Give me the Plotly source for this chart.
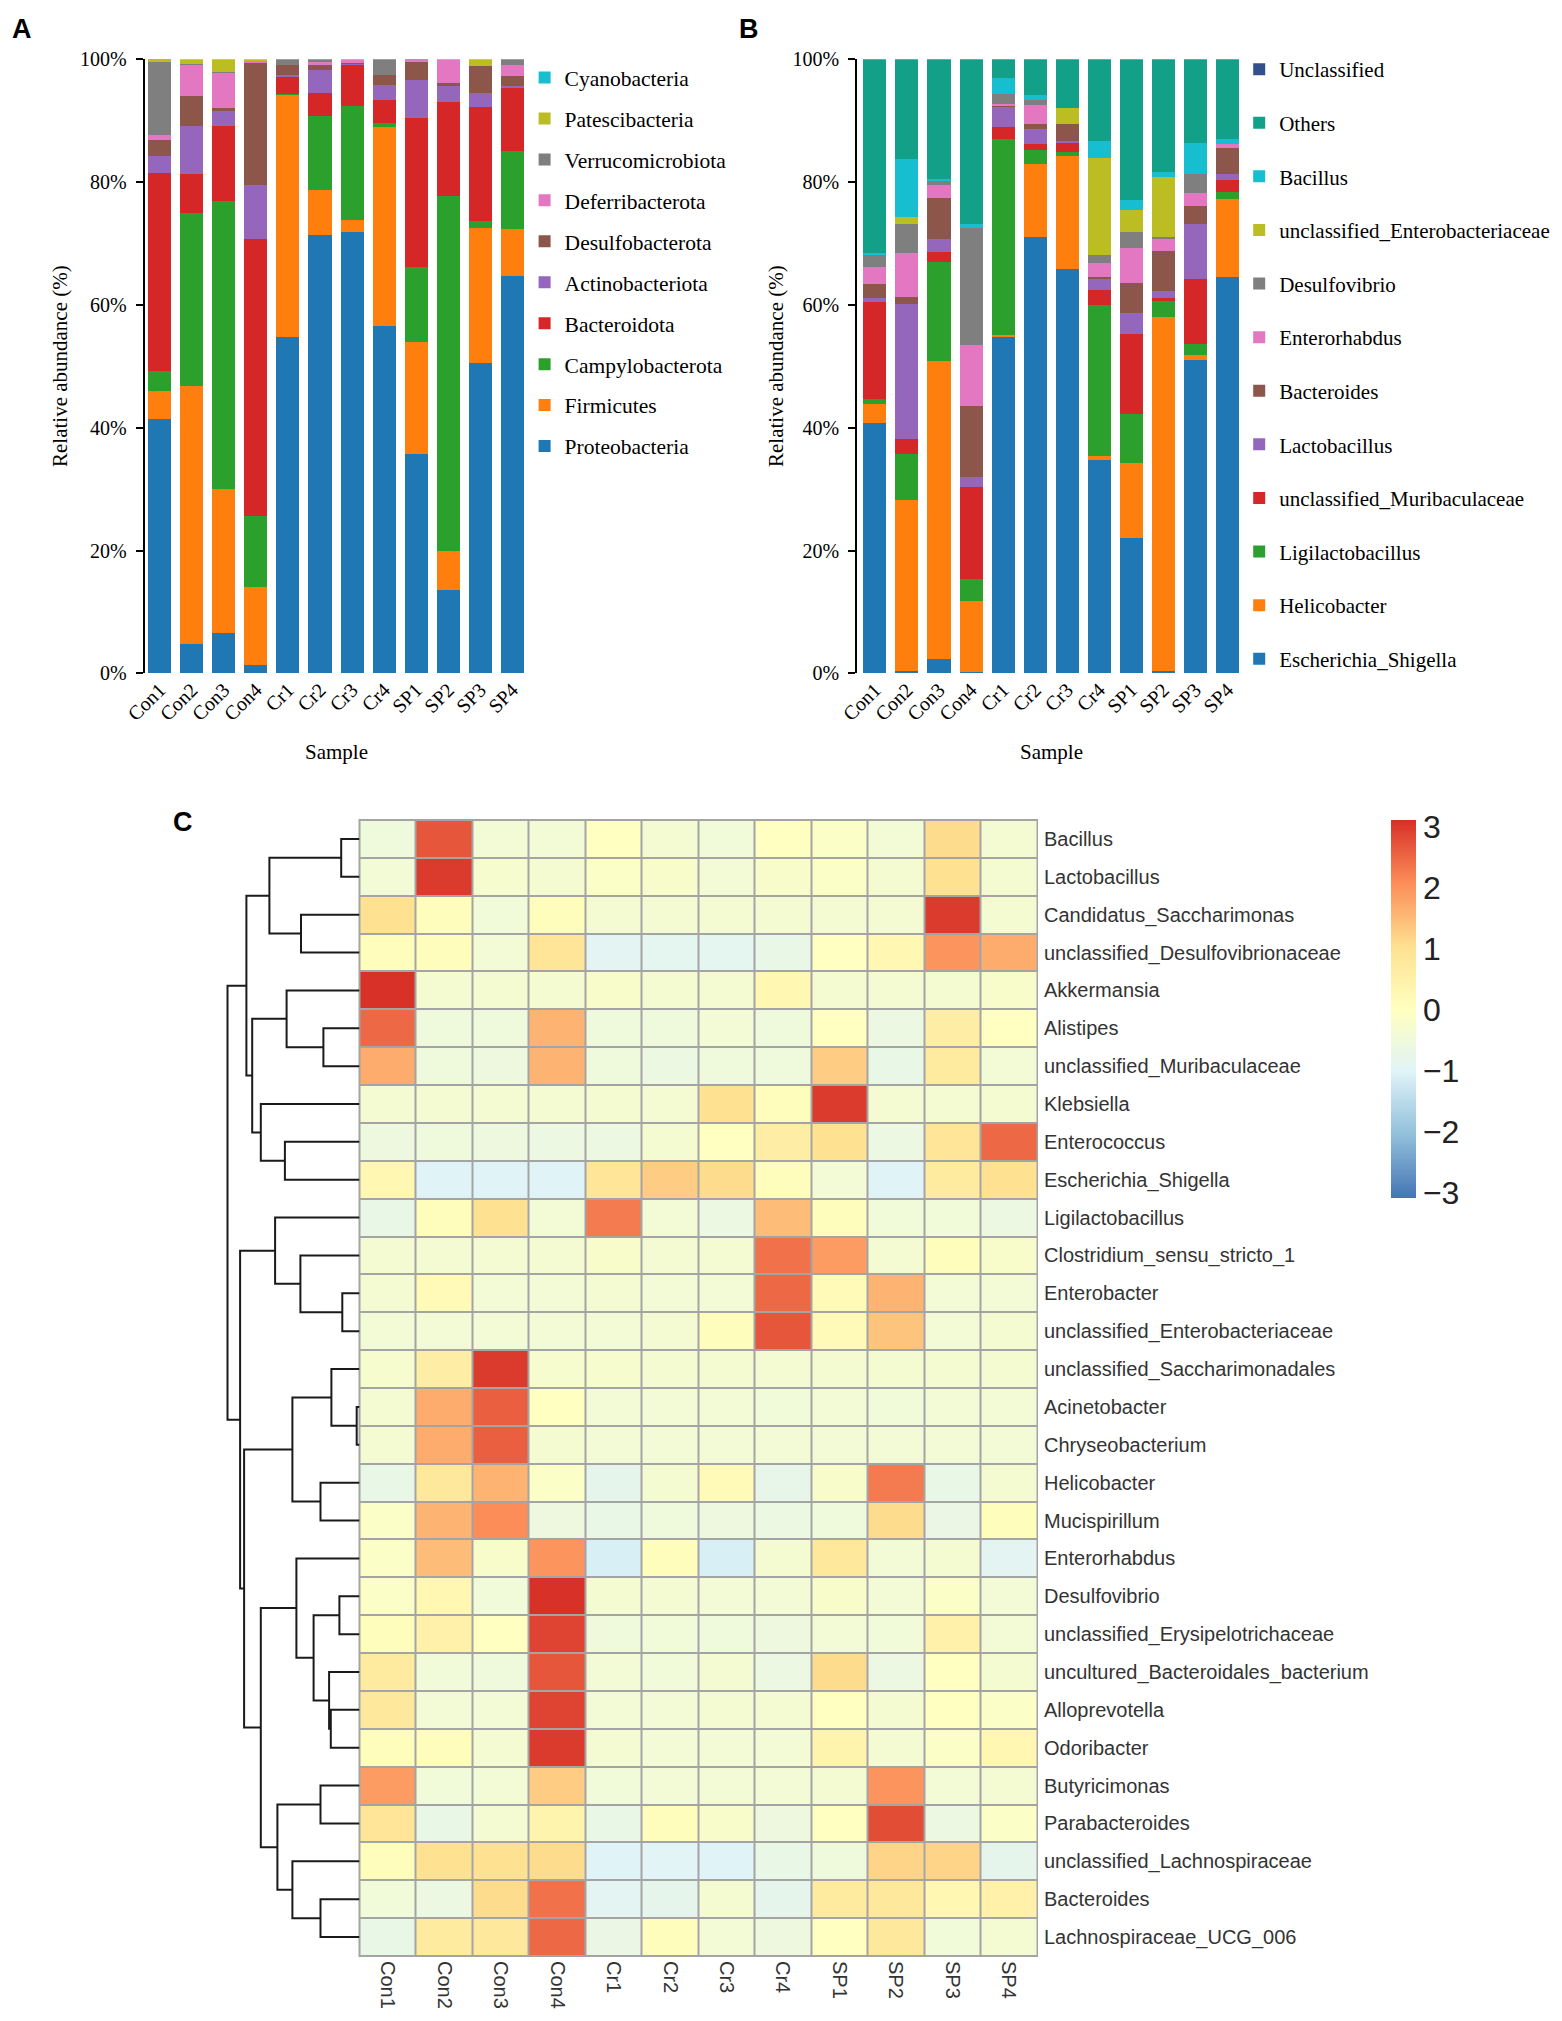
import plotly.graph_objects as go

W, H = 1562, 2021

SAMPLES = ["Con1", "Con2", "Con3", "Con4", "Cr1", "Cr2", "Cr3", "Cr4", "SP1", "SP2", "SP3", "SP4"]

# ---------------- Panel A: phylum relative abundance (%) ----------------
proteobacteria    = [41.4, 4.7, 6.6, 1.3, 54.8, 71.4, 71.9, 56.6, 35.7, 13.5, 50.5, 64.7]
firmicutes        = [4.6, 42.1, 23.4, 12.8, 39.4, 7.3, 2.0, 32.4, 18.2, 6.5, 22.0, 7.7]
campylobacterota  = [3.2, 28.1, 47.0, 11.6, 0.2, 12.0, 18.5, 0.6, 12.2, 57.7, 1.2, 12.7]
bacteroidota      = [32.3, 6.5, 12.1, 45.0, 2.7, 3.8, 6.7, 3.7, 24.3, 15.4, 18.6, 10.3]
actinobacteriota  = [2.8, 7.7, 2.5, 8.9, 0.3, 3.7, 0.2, 2.5, 6.3, 2.5, 2.2, 0.3]
desulfobacterota  = [2.6, 5.0, 0.4, 19.9, 1.7, 0.8, 0.1, 1.6, 2.8, 0.6, 4.4, 1.6]
deferribacterota  = [0.8, 5.0, 5.8, 0.3, 0.0, 0.6, 0.6, 0.0, 0.4, 3.8, 0.0, 1.8]
verrucomicrobiota = [11.8, 0.2, 0.2, 0.0, 0.9, 0.4, 0.0, 2.6, 0.1, 0.0, 0.0, 0.9]
patescibacteria   = [0.4, 0.7, 2.0, 0.2, 0.0, 0.0, 0.0, 0.0, 0.0, 0.0, 1.1, 0.0]
cyanobacteria     = [0.1, 0.0, 0.0, 0.0, 0.0, 0.0, 0.0, 0.0, 0.0, 0.0, 0.0, 0.0]

PHYLA_NAMES = ["Proteobacteria", "Firmicutes", "Campylobacterota", "Bacteroidota",
               "Actinobacteriota", "Desulfobacterota", "Deferribacterota",
               "Verrucomicrobiota", "Patescibacteria", "Cyanobacteria"]
PHYLA_VALUES = [proteobacteria, firmicutes, campylobacterota, bacteroidota,
                actinobacteriota, desulfobacterota, deferribacterota,
                verrucomicrobiota, patescibacteria, cyanobacteria]
PHYLA_COLORS = ["#1F77B4", "#FF7F0E", "#2CA02C", "#D62728", "#9467BD",
                "#8C564B", "#E377C2", "#7F7F7F", "#BCBD22", "#17BECF"]

# ---------------- Panel B: genus relative abundance (%) ----------------
escherichia_shigella    = [40.7, 0.3, 2.3, 0.2, 54.7, 71.1, 65.8, 34.7, 22.0, 0.4, 51.0, 64.6]
helicobacter            = [3.2, 28.0, 48.5, 11.5, 0.4, 11.9, 18.5, 0.7, 12.2, 57.6, 0.9, 12.6]
ligilactobacillus       = [0.8, 7.4, 16.2, 3.7, 31.9, 2.2, 0.6, 24.6, 8.0, 2.7, 1.8, 1.2]
uncl_muribaculaceae     = [15.7, 2.4, 1.6, 14.9, 1.9, 1.0, 1.5, 2.4, 13.0, 0.5, 10.5, 1.9]
lactobacillus           = [0.8, 22.1, 2.1, 1.6, 3.3, 2.5, 0.3, 1.9, 3.5, 1.1, 8.9, 1.1]
bacteroides             = [2.2, 1.1, 6.7, 11.6, 0.3, 0.7, 2.8, 0.3, 4.8, 6.4, 3.0, 4.2]
enterorhabdus           = [2.7, 7.2, 2.2, 10.0, 0.2, 3.2, 0.0, 2.2, 5.7, 2.1, 2.1, 0.6]
desulfovibrio           = [2.0, 4.7, 0.5, 19.1, 1.6, 0.8, 0.0, 1.3, 2.6, 0.3, 3.1, 0.0]
uncl_enterobacteriaceae = [0.0, 1.1, 0.0, 0.0, 0.0, 0.0, 2.5, 15.8, 3.6, 9.7, 0.0, 0.0]
bacillus                = [0.3, 9.5, 0.4, 0.6, 2.7, 0.8, 0.0, 2.8, 1.7, 0.9, 5.0, 0.8]
others                  = [31.6, 16.2, 19.5, 26.8, 3.0, 5.8, 8.0, 13.3, 22.9, 18.3, 13.7, 13.0]
unclassified            = [0.0, 0.0, 0.0, 0.0, 0.0, 0.0, 0.0, 0.0, 0.0, 0.0, 0.0, 0.0]

GENUS_NAMES = ["Escherichia_Shigella", "Helicobacter", "Ligilactobacillus",
               "unclassified_Muribaculaceae", "Lactobacillus", "Bacteroides",
               "Enterorhabdus", "Desulfovibrio", "unclassified_Enterobacteriaceae",
               "Bacillus", "Others", "Unclassified"]
GENUS_VALUES = [escherichia_shigella, helicobacter, ligilactobacillus, uncl_muribaculaceae,
                lactobacillus, bacteroides, enterorhabdus, desulfovibrio,
                uncl_enterobacteriaceae, bacillus, others, unclassified]
GENUS_COLORS = ["#1F77B4", "#FF7F0E", "#2CA02C", "#D62728", "#9467BD", "#8C564B",
                "#E377C2", "#7F7F7F", "#BCBD22", "#17BECF", "#12A088", "#34508C"]

# ---------------- Panel C: row z-scores ----------------
GENERA = ["Bacillus", "Lactobacillus", "Candidatus_Saccharimonas",
          "unclassified_Desulfovibrionaceae", "Akkermansia", "Alistipes",
          "unclassified_Muribaculaceae", "Klebsiella", "Enterococcus",
          "Escherichia_Shigella", "Ligilactobacillus", "Clostridium_sensu_stricto_1",
          "Enterobacter", "unclassified_Enterobacteriaceae",
          "unclassified_Saccharimonadales", "Acinetobacter", "Chryseobacterium",
          "Helicobacter", "Mucispirillum", "Enterorhabdus", "Desulfovibrio",
          "unclassified_Erysipelotrichaceae", "uncultured_Bacteroidales_bacterium",
          "Alloprevotella", "Odoribacter", "Butyricimonas", "Parabacteroides",
          "unclassified_Lachnospiraceae", "Bacteroides", "Lachnospiraceae_UCG_006"]

zscores = [
    [-0.5, 2.7, -0.4, -0.4, 0.0, -0.35, -0.45, 0.0, -0.1, -0.4, 1.1, -0.35],
    [-0.4, 3.0, -0.25, -0.3, -0.1, -0.2, -0.4, -0.2, -0.1, -0.3, 1.0, -0.3],
    [1.0, 0.1, -0.45, 0.1, -0.35, -0.35, -0.35, -0.35, -0.35, -0.35, 3.0, -0.3],
    [0.1, 0.1, -0.4, 0.9, -0.9, -0.85, -0.85, -0.7, 0.0, 0.3, 2.0, 1.7],
    [3.1, -0.3, -0.3, -0.3, -0.2, -0.3, -0.35, 0.3, -0.3, -0.35, -0.3, -0.2],
    [2.5, -0.5, -0.5, 1.6, -0.5, -0.5, -0.4, -0.5, 0.0, -0.6, 0.6, 0.0],
    [1.7, -0.5, -0.55, 1.6, -0.5, -0.6, -0.5, -0.5, 1.3, -0.7, 0.7, -0.4],
    [-0.35, -0.35, -0.35, -0.35, -0.3, -0.35, 1.0, 0.1, 3.0, -0.35, -0.35, -0.3],
    [-0.55, -0.5, -0.55, -0.6, -0.6, -0.3, 0.0, 0.6, 1.0, -0.6, 0.9, 2.5],
    [0.3, -1.0, -1.0, -1.0, 0.9, 1.3, 1.1, 0.1, -0.4, -1.0, 0.7, 1.0],
    [-0.7, 0.1, 1.0, -0.4, 2.3, -0.4, -0.6, 1.5, 0.1, -0.45, -0.45, -0.6],
    [-0.35, -0.35, -0.35, -0.35, -0.2, -0.35, -0.35, 2.4, 1.9, -0.35, 0.1, -0.2],
    [-0.35, 0.2, -0.4, -0.4, -0.35, -0.4, -0.4, 2.5, 0.2, 1.6, -0.4, -0.4],
    [-0.4, -0.4, -0.4, -0.4, -0.4, -0.35, 0.1, 2.7, 0.2, 1.4, -0.4, -0.3],
    [-0.25, 0.6, 3.0, -0.25, -0.25, -0.3, -0.3, -0.35, -0.3, -0.3, -0.3, -0.3],
    [-0.35, 1.7, 2.6, 0.0, -0.4, -0.4, -0.4, -0.45, -0.4, -0.45, -0.4, -0.4],
    [-0.35, 1.7, 2.6, -0.3, -0.4, -0.4, -0.4, -0.4, -0.4, -0.4, -0.4, -0.4],
    [-0.7, 0.8, 1.6, -0.1, -0.8, -0.3, 0.2, -0.75, -0.2, 2.3, -0.7, -0.3],
    [-0.1, 1.6, 2.1, -0.55, -0.7, -0.5, -0.55, -0.6, -0.5, 1.1, -0.65, 0.1],
    [-0.1, 1.5, -0.2, 2.0, -1.1, 0.1, -1.1, -0.3, 0.8, -0.4, -0.3, -0.9],
    [-0.1, 0.3, -0.45, 3.1, -0.3, -0.35, -0.4, -0.4, -0.2, -0.4, -0.1, -0.4],
    [0.1, 0.5, 0.0, 2.9, -0.5, -0.45, -0.5, -0.55, -0.4, -0.45, 0.5, -0.4],
    [0.7, -0.45, -0.5, 2.7, -0.4, -0.45, -0.35, -0.6, 1.1, -0.6, 0.0, -0.3],
    [0.8, -0.4, -0.4, 2.9, -0.4, -0.4, -0.35, -0.35, 0.0, -0.3, 0.0, -0.1],
    [0.1, 0.1, -0.35, 3.0, -0.35, -0.4, -0.4, -0.4, 0.4, -0.35, -0.1, 0.3],
    [1.9, -0.45, -0.4, 1.3, -0.45, -0.4, -0.4, -0.4, -0.35, 2.0, -0.4, -0.35],
    [0.9, -0.7, -0.35, 0.4, -0.7, 0.1, -0.2, -0.55, 0.0, 2.8, -0.6, -0.1],
    [0.1, 1.0, 1.0, 1.1, -1.0, -0.95, -1.0, -0.7, -0.5, 1.2, 1.2, -0.8],
    [-0.45, -0.6, 1.1, 2.4, -0.9, -0.8, -0.3, -0.8, 0.7, 0.8, 0.3, 0.5],
    [-0.7, 0.7, 0.8, 2.5, -0.65, 0.1, -0.4, -0.55, 0.0, 0.8, -0.45, -0.35],
]

# Row dendrogram: (child_a, child_b, merge height); leaves 0..29, new nodes 30..
LINKAGE = [
    (0, 1, 18.3), (2, 3, 58.5), (30, 31, 90.1), (5, 6, 36.1), (4, 33, 72.9),
    (8, 9, 74.6), (7, 35, 98.7), (34, 36, 107.3), (32, 37, 113.1),
    (12, 13, 17.2), (11, 39, 59.1), (10, 40, 84.4),
    (15, 16, 2.8), (14, 42, 28.1), (17, 18, 39.0), (43, 44, 67.1),
    (20, 21, 20.1), (23, 24, 28.7), (22, 47, 30.4), (46, 48, 45.9), (19, 49, 63.1),
    (25, 26, 39.0), (28, 29, 39.0), (27, 52, 67.1), (51, 53, 82.1), (50, 54, 98.7),
    (45, 55, 115.4), (41, 56, 119.4), (38, 57, 132.0),
]

CB_TICKS = [-3, -2, -1, 0, 1, 2, 3]

# ---------------- figure ----------------
SERIF = "Liberation Serif"
SANS = "Liberation Sans"


def px_x(p):
    return p / W


def px_y(p):
    return 1 - p / H


fig = go.Figure()

nA = len(PHYLA_NAMES)
for i, (name, vals, col) in enumerate(zip(PHYLA_NAMES, PHYLA_VALUES, PHYLA_COLORS)):
    fig.add_trace(go.Bar(x=SAMPLES, y=vals, name=name, marker=dict(color=col, line=dict(width=0)),
                         xaxis="x", yaxis="y", legend="legend", legendgroup="A" + name,
                         legendrank=100 + nA - i))

nB = len(GENUS_NAMES)
for i, (name, vals, col) in enumerate(zip(GENUS_NAMES, GENUS_VALUES, GENUS_COLORS)):
    fig.add_trace(go.Bar(x=SAMPLES, y=vals, name=name, marker=dict(color=col, line=dict(width=0)),
                         xaxis="x2", yaxis="y2", legend="legend2", legendgroup="B" + name,
                         legendrank=100 + nB - i))

colorscale = [[0, "#4575B4"], [1 / 6, "#91BFDB"], [2 / 6, "#E0F3F8"], [3 / 6, "#FFFFBF"],
              [4 / 6, "#FEE090"], [5 / 6, "#FC8D59"], [1, "#D73027"]]

fig.add_trace(go.Heatmap(
    z=zscores, x=list(range(len(SAMPLES))), y=list(range(len(GENERA))),
    colorscale=colorscale, zmin=-3.08, zmax=3.12, xgap=2, ygap=2,
    xaxis="x3", yaxis="y3", showlegend=False,
    colorbar=dict(x=px_x(1391), xanchor="left", y=px_y(819.5), yanchor="top",
                  len=378, lenmode="pixels", thickness=25, thicknessmode="pixels",
                  outlinewidth=0, xpad=0, ypad=0, tickvals=CB_TICKS, ticks="",
                  tickfont=dict(family=SANS, size=32, color="#222222")),
))

# dendrogram lines from linkage
pos = {i: (0.0, float(i)) for i in range(len(GENERA))}
dx, dy = [], []
for k, (a, b, h) in enumerate(LINKAGE):
    ha, ya = pos[a]
    hb, yb = pos[b]
    dx += [ha, h, h, hb, None]
    dy += [ya, ya, yb, yb, None]
    pos[len(GENERA) + k] = (h, (ya + yb) / 2)
fig.add_trace(go.Scatter(x=dx, y=dy, mode="lines", line=dict(color="#1A1A1A", width=2),
                         xaxis="x4", yaxis="y3", showlegend=False, hoverinfo="skip"))

ydom = [px_y(673.3), px_y(59.3)]
yaxis_common = dict(range=[0, 100], tickvals=[0, 20, 40, 60, 80, 100],
                    ticktext=["0%", "20%", "40%", "60%", "80%", "100%"],
                    showline=True, linewidth=2, linecolor="black", ticks="outside",
                    ticklen=7, tickwidth=2, tickcolor="black", showgrid=False, zeroline=False,
                    tickfont=dict(family=SERIF, size=20, color="black"), ticklabelstandoff=5,
                    automargin=False)
xaxis_common = dict(type="category", showline=False, ticks="", showgrid=False, zeroline=False,
                    tickangle=-45, tickfont=dict(family=SERIF, size=20, color="black"),
                    automargin=False)


def label(text, x, y, size=20, family=SERIF, angle=0, bold=False):
    return dict(text=text, x=px_x(x), y=px_y(y), xref="paper", yref="paper", showarrow=False,
                xanchor="center", yanchor="middle", textangle=angle,
                font=dict(family=family, size=size, color="black",
                          weight="bold" if bold else "normal"))


fig.update_layout(
    width=W, height=H, autosize=False,
    margin=dict(l=0, r=0, t=0, b=0, pad=0, autoexpand=False),
    paper_bgcolor="white", plot_bgcolor="white",
    barmode="stack", bargap=0.28,
    xaxis=dict(domain=[px_x(144.6), px_x(528.4)], range=[-0.471, 11.5], anchor="y", **xaxis_common),
    yaxis=dict(domain=ydom, anchor="x", **yaxis_common),
    xaxis2=dict(domain=[px_x(857.1), px_x(1243.4)], range=[-0.556, 11.5], anchor="y2", **xaxis_common),
    yaxis2=dict(domain=ydom, anchor="x2", **yaxis_common),
    xaxis3=dict(domain=[px_x(359.5), px_x(1037)], range=[-0.5, 11.5], anchor="y3",
                tickvals=list(range(len(SAMPLES))), ticktext=SAMPLES, tickangle=90,
                showgrid=False, zeroline=False, showline=False, ticks="", automargin=False,
                tickfont=dict(family=SANS, size=20, color="#333333"), ticklabelstandoff=4),
    yaxis3=dict(domain=[px_y(1956), px_y(820)], range=[len(GENERA) - 0.5, -0.5], anchor="x3",
                side="right", tickvals=list(range(len(GENERA))), ticktext=GENERA,
                showgrid=False, zeroline=False, showline=False, ticks="", automargin=False,
                tickfont=dict(family=SANS, size=20, color="#333333"), ticklabelstandoff=6),
    xaxis4=dict(domain=[px_x(200), px_x(359.5)], range=[159.5, 0], anchor="y3",
                visible=False, showgrid=False, zeroline=False, automargin=False),
    legend=dict(x=px_x(524.6), y=px_y(57), xanchor="left", yanchor="top",
                traceorder="grouped", tracegroupgap=10,
                font=dict(family=SERIF, size=21.5, color="black"), bgcolor="rgba(0,0,0,0)"),
    legend2=dict(x=px_x(1239.2), y=px_y(49), xanchor="left", yanchor="top",
                 traceorder="grouped", tracegroupgap=23.3,
                 font=dict(family=SERIF, size=21, color="black"), bgcolor="rgba(0,0,0,0)"),
    shapes=[dict(type="rect", xref="x3 domain", yref="y3 domain", x0=0, x1=1, y0=0, y1=1,
                 fillcolor="#A4A4A4", line=dict(color="#A4A4A4", width=2), layer="below")],
    annotations=[
        label("A", 22, 29, size=27, family=SANS, bold=True),
        label("B", 749, 29, size=27, family=SANS, bold=True),
        label("C", 183, 822, size=27, family=SANS, bold=True),
        label("Relative abundance (%)", 60, 366, size=21, angle=-90),
        label("Relative abundance (%)", 776, 366, size=21, angle=-90),
        label("Sample", 336, 752, size=21),
        label("Sample", 1051, 752, size=21),
    ],
)

fig.write_html("out.html", config={"displayModeBar": False},
               post_script="document.body.style.margin='0';")
